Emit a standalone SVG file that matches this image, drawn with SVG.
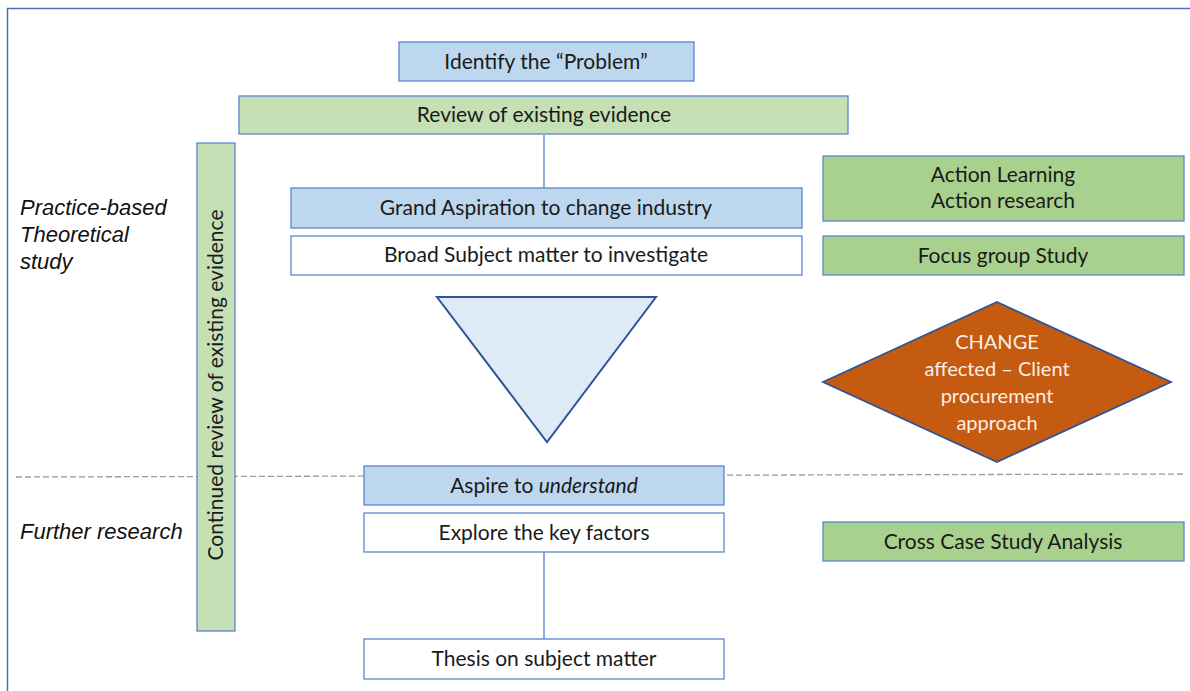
<svg xmlns="http://www.w3.org/2000/svg" width="1190" height="691" viewBox="0 0 1190 691">
  <style>
    .box { stroke: #5B86CF; stroke-width: 1.3; }
    .blue { fill: #BDD7EE; }
    .pale { fill: #C5E0B4; }
    .green { fill: #A9D18E; }
    .white { fill: #FFFFFF; }
    .t { font-family: Lato, "Open Sans", "Liberation Sans", sans-serif; font-size: 21px; fill: #1A1A1A; text-anchor: middle; }
    .d { font-size: 20px; fill: #FBEFE6; }
    .side { font-family: "Liberation Sans", Arial, sans-serif; font-size: 22px; font-style: italic; fill: #111111; }
    .link { stroke: #4472C4; stroke-width: 1.2; fill: none; }
  </style>

  <rect x="0" y="0" width="1190" height="691" fill="#FFFFFF"/>
  <!-- frame -->
  <path d="M7.5 691 V8.5 H1190" fill="none" stroke="#4A6FB5" stroke-width="1.5"/>

  <!-- phase divider -->
  <line x1="16" y1="477" x2="1186" y2="474" stroke="#9A9A9A" stroke-width="1.3" stroke-dasharray="6 3"/>

  <!-- phase labels -->
  <text class="side" x="20" y="215">Practice-based</text>
  <text class="side" x="20" y="242">Theoretical</text>
  <text class="side" x="20" y="269">study</text>
  <text class="side" x="20" y="539">Further research</text>

  <g id="connectors">
    <line class="link" x1="544" y1="135" x2="544" y2="188"/>
    <line class="link" x1="544" y1="552" x2="544" y2="639"/>
  </g>

  <g id="continued-review">
    <rect class="box pale" x="197" y="143" width="38" height="488"/>
    <text class="t" transform="translate(223 385) rotate(-90)">Continued review of existing evidence</text>
  </g>

  <g id="identify">
    <rect class="box blue" x="399" y="42" width="295" height="39"/>
    <text class="t" x="546" y="69">Identify the “Problem”</text>
  </g>

  <g id="review">
    <rect class="box pale" x="239" y="96" width="609" height="38"/>
    <text class="t" x="544" y="122">Review of existing evidence</text>
  </g>

  <g id="grand-aspiration">
    <rect class="box blue" x="291" y="188" width="511" height="40"/>
    <text class="t" x="546" y="215">Grand Aspiration to change industry</text>
  </g>

  <g id="broad-subject">
    <rect class="box white" x="291" y="236" width="511" height="39"/>
    <text class="t" x="546" y="262">Broad Subject matter to investigate</text>
  </g>

  <g id="funnel">
    <polygon points="437,297 656,297 547,442" fill="#DEEBF7" stroke="#2F5597" stroke-width="2"/>
  </g>

  <g id="aspire">
    <rect class="box blue" x="364" y="466" width="360" height="39"/>
    <text class="t" x="544" y="493">Aspire to <tspan font-style="italic">understand</tspan></text>
  </g>

  <g id="explore">
    <rect class="box white" x="364" y="513" width="360" height="39"/>
    <text class="t" x="544" y="540">Explore the key factors</text>
  </g>

  <g id="thesis">
    <rect class="box white" x="364" y="639" width="360" height="40"/>
    <text class="t" x="544" y="666">Thesis on subject matter</text>
  </g>

  <g id="action">
    <rect class="box green" x="823" y="156" width="361" height="65"/>
    <text class="t" x="1003" y="182">Action Learning</text>
    <text class="t" x="1003" y="208">Action research</text>
  </g>

  <g id="focus-group">
    <rect class="box green" x="823" y="236" width="361" height="39"/>
    <text class="t" x="1003" y="263">Focus group Study</text>
  </g>

  <g id="change">
    <polygon points="823,382 997,302 1171,382 997,462" fill="#C55A11" stroke="#2F5597" stroke-width="1.8"/>
    <text class="t d" x="997" y="349">CHANGE</text>
    <text class="t d" x="997" y="376">affected – Client</text>
    <text class="t d" x="997" y="403">procurement</text>
    <text class="t d" x="997" y="430">approach</text>
  </g>

  <g id="cross-case">
    <rect class="box green" x="823" y="522" width="361" height="39"/>
    <text class="t" x="1003" y="549">Cross Case Study Analysis</text>
  </g>
</svg>
